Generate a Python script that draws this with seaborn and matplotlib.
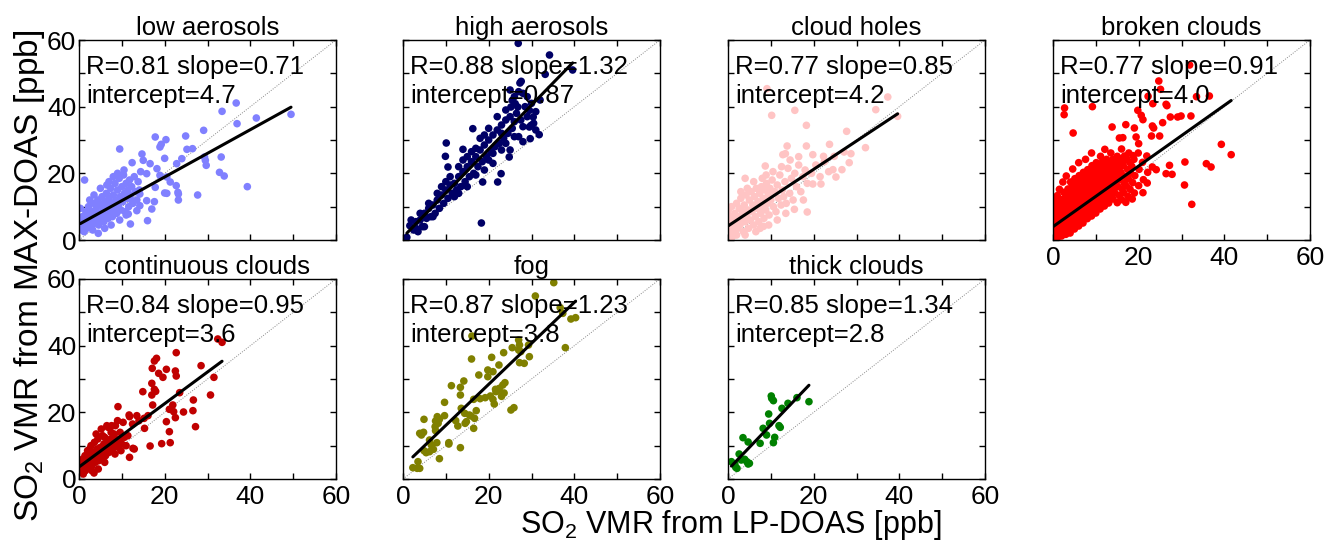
import matplotlib
matplotlib.use("Agg")
import numpy as np
import pandas as pd
import seaborn as sns
import matplotlib.pyplot as plt
from matplotlib.ticker import MultipleLocator

# ---------------- data ----------------
titles = ["low aerosols", "high aerosols", "cloud holes", "broken clouds",
          "continuous clouds", "fog", "thick clouds"]
r_values = [0.81, 0.88, 0.77, 0.77, 0.84, 0.87, 0.85]
slopes = [0.71, 1.32, 0.85, 0.91, 0.95, 1.23, 1.34]
intercepts = ["4.7", "0.87", "4.2", "4.0", "3.6", "3.8", "2.8"]
colors = ["#8080FF", "#000066", "#FFC4C4", "#FF0000", "#C00000", "#808000", "#008000"]
tick_values = [0, 20, 40, 60]

low_aerosols_pts = [
    (36.7, 41.1), (33.4, 38.6), (49.5, 37.7), (41.4, 36.6), (36.9, 34.9), (29.1, 32.9),
    (17.8, 30.9), (20.3, 30.1), (24.9, 31.2), (19.2, 28.7), (18.9, 27.9), (9.5, 27.3),
    (26.5, 27.4), (25.2, 27.2), (24.0, 24.4), (14.7, 25.8), (20.0, 24.5), (33.2, 24.9),
    (29.3, 24.9), (29.5, 23.9), (29.7, 22.4), (22.8, 22.9), (32.8, 20.3), (33.9, 19.2),
    (39.3, 16.0), (22.7, 16.3), (23.1, 14.3), (23.2, 13.8), (20.5, 14.0), (20.0, 14.1),
    (27.7, 13.5), (23.2, 12.0), (17.6, 11.5), (16.0, 5.8), (12.0, 4.8), (1.3, 18.0),
    (12.4, 23.2), (15.0, 23.9), (16.6, 22.9), (18.2, 21.4), (15.8, 19.9), (18.9, 19.4),
    (20.5, 18.9), (21.3, 17.4), (17.8, 15.8), (14.2, 13.8), (15.8, 11.8), (17.0, 9.3),
    (13.5, 8.8), (14.2, 10.3), (11.5, 7.8), (12.3, 11.8),
    (0.3, 9.5), (0.5, 5.5), (0.6, 3.0), (0.8, 7.0), (1.0, 4.5), (1.2, 2.5), (1.4, 6.0),
    (1.6, 8.5), (1.8, 3.5), (2.0, 5.5), (2.2, 10.0), (2.4, 7.0), (2.6, 4.0), (2.8, 6.0),
    (3.0, 8.5), (3.2, 3.0), (3.4, 11.0), (3.6, 5.0), (3.8, 7.5), (4.0, 9.5), (4.2, 6.0),
    (4.4, 12.0), (4.6, 4.5), (4.8, 8.0), (5.0, 10.5), (5.2, 6.5), (5.4, 13.0), (5.6, 9.0),
    (5.8, 5.5), (6.0, 11.5), (6.2, 7.5), (6.4, 14.0), (6.6, 10.0), (6.8, 6.5), (7.0, 12.5),
    (7.2, 8.5), (7.4, 15.5), (7.6, 11.0), (7.8, 7.0), (8.0, 13.5), (8.2, 9.5), (8.4, 17.0),
    (8.6, 12.0), (8.8, 8.0), (9.0, 15.0), (9.2, 10.5), (9.4, 18.5), (9.6, 13.0), (9.8, 9.0),
    (10.0, 16.0), (10.2, 11.5), (10.4, 19.5), (10.6, 14.0), (10.8, 8.5), (11.0, 17.0),
    (11.2, 12.5), (11.4, 15.0), (11.6, 10.0), (11.8, 18.0), (12.0, 13.5), (12.3, 16.0),
    (12.6, 11.0), (12.9, 19.0), (13.2, 14.5), (13.5, 12.0), (13.8, 17.5), (14.1, 15.0),
    (14.4, 20.5), (3.5, 13.5), (2.5, 12.0), (6.5, 16.5), (8.0, 19.0), (10.5, 21.0),
    (5.0, 15.5), (7.0, 17.5), (9.0, 20.0), (4.5, 2.0), (7.5, 4.5), (9.5, 6.0), (11.0, 7.5),
    (6.0, 3.5),
]

high_aerosols_pts = [
    (26.9, 59.0), (34.2, 55.5), (33.2, 49.7), (27.6, 47.6), (27.3, 47.1), (25.5, 41.9),
    (26.2, 40.9), (25.2, 39.9), (26.8, 39.9), (29.5, 38.9), (30.4, 36.9), (29.9, 34.4),
    (29.5, 33.9), (31.8, 31.6), (29.7, 30.4), (16.3, 33.4), (10.1, 29.1), (14.0, 27.2),
    (9.9, 25.1), (18.3, 5.1), (0.9, 0.8), (1.9, 6.0), (1.6, 4.3), (22.1, 17.4), (22.9, 19.9),
    (24.8, 24.9), (18.6, 17.4), (10.5, 21.9), (39.6, 51.0),
    (2.5, 3.0), (3.0, 5.5), (3.5, 2.5), (4.0, 6.0), (4.5, 4.0), (5.0, 8.0), (5.5, 6.5),
    (6.0, 9.5), (6.5, 7.0), (7.0, 10.5), (7.5, 8.0), (8.0, 12.0), (8.5, 9.5), (9.0, 13.5),
    (9.5, 11.0), (10.0, 15.0), (10.5, 12.5), (11.0, 16.5), (11.5, 14.0), (12.0, 17.0),
    (12.5, 15.0), (13.0, 19.0), (13.5, 16.0), (14.0, 20.5), (14.5, 17.5), (15.0, 22.0),
    (15.5, 19.0), (16.0, 23.5), (16.5, 20.0), (17.0, 25.0), (17.5, 22.0), (18.0, 27.0),
    (18.5, 23.5), (19.0, 28.5), (19.5, 25.0), (20.0, 30.0), (20.5, 26.5), (21.0, 31.5),
    (21.5, 28.0), (22.0, 33.0), (22.5, 29.0), (23.0, 34.5), (23.5, 30.5), (24.0, 36.0),
    (24.5, 32.0), (25.0, 37.0), (25.5, 33.5), (26.0, 35.5), (26.5, 38.0), (27.0, 31.0),
    (27.5, 36.0), (28.0, 34.0), (28.5, 40.0), (29.0, 37.0), (30.0, 41.0), (31.0, 38.5),
    (32.0, 42.0), (28.0, 44.0), (21.0, 23.0), (19.0, 21.0), (17.0, 19.5), (15.0, 25.0),
    (13.0, 22.0), (12.0, 13.0), (9.0, 16.0), (7.0, 7.0), (5.0, 4.0), (23.0, 27.0),
    (25.0, 27.0), (20.0, 33.5), (22.0, 37.0), (24.0, 39.0), (26.0, 43.0), (18.0, 30.5),
    (16.0, 26.5), (11.0, 19.0), (8.0, 14.0), (6.0, 11.0), (4.0, 8.0), (3.0, 3.5),
    (27.0, 44.5), (25.0, 45.0), (29.0, 43.0), (23.0, 32.0), (21.0, 26.0), (19.0, 31.5),
    (17.0, 27.5), (14.0, 24.0), (13.0, 14.0), (10.0, 17.5), (15.0, 16.0), (20.0, 24.0),
    (24.0, 29.0), (26.0, 31.0), (28.0, 29.5), (30.5, 35.0), (31.0, 33.0),
]

cloud_holes_pts = [
    (9.1, 45.4), (37.3, 42.9), (34.5, 39.1), (10.2, 37.4), (15.6, 38.9), (18.3, 34.4),
    (27.7, 32.6), (13.8, 28.2), (18.3, 28.2), (23.7, 28.7), (32.1, 27.7), (13.4, 25.9),
    (12.8, 25.6), (19.8, 25.6), (22.3, 25.1), (24.8, 25.1), (28.7, 25.9), (27.1, 26.4),
    (28.3, 23.2), (26.6, 21.1), (24.5, 21.1), (25.2, 18.9), (21.7, 16.8), (19.8, 16.8),
    (8.7, 22.2), (4.0, 18.5), (8.9, 19.5), (17.6, 12.0), (18.5, 8.4), (15.5, 9.2),
    (8.3, 4.1), (39.6, 37.1),
    (0.1, 9.0), (0.2, 5.0), (0.3, 2.0), (0.5, 7.0), (0.6, 3.5), (0.8, 10.0), (1.0, 4.5),
    (1.2, 6.5), (1.4, 2.5), (1.6, 8.0), (1.8, 5.0), (2.0, 11.0), (2.2, 3.5), (2.4, 7.0),
    (2.6, 9.5), (2.8, 4.5), (3.0, 12.5), (3.2, 6.0), (3.4, 8.5), (3.6, 2.5), (3.8, 10.5),
    (4.0, 5.5), (4.2, 13.5), (4.4, 7.5), (4.6, 9.0), (4.8, 3.5), (5.0, 12.0), (5.2, 6.0),
    (5.4, 14.5), (5.6, 8.5), (5.8, 10.5), (6.0, 4.5), (6.2, 13.0), (6.4, 7.0), (6.6, 15.5),
    (6.8, 9.5), (7.0, 11.5), (7.2, 5.5), (7.4, 14.0), (7.6, 8.0), (7.8, 16.0), (8.0, 10.0),
    (8.2, 12.5), (8.4, 6.5), (8.6, 15.0), (8.8, 9.0), (9.0, 17.0), (9.2, 11.0), (9.4, 13.5),
    (9.6, 7.5), (9.8, 15.5), (10.0, 12.0), (10.3, 18.0), (10.6, 10.0), (10.9, 14.5),
    (11.2, 8.5), (11.5, 16.5), (11.8, 12.5), (12.1, 19.5), (12.4, 10.5), (12.7, 15.0),
    (13.0, 13.0), (13.3, 17.5), (13.6, 11.0), (14.0, 21.5), (14.4, 14.0), (14.8, 18.5),
    (15.2, 12.0), (15.6, 20.0), (16.0, 16.0), (16.5, 22.5), (17.0, 14.5), (17.5, 19.0),
    (18.0, 21.0), (18.5, 17.0), (19.5, 20.0), (20.5, 22.5), (21.5, 19.0), (22.5, 23.5),
    (23.5, 20.5), (6.0, 17.5), (4.5, 15.5), (3.0, 14.5), (8.0, 18.5), (10.5, 20.5),
    (12.5, 22.0), (14.5, 24.0), (16.5, 25.0), (9.5, 4.5), (11.5, 6.0), (6.5, 2.5),
    (13.5, 8.0), (2.0, 1.5), (1.0, 1.0), (4.0, 1.5), (7.5, 3.5),
]

broken_clouds_pts = [
    (31.9, 52.5), (24.7, 47.7), (36.5, 43.2), (2.7, 39.6), (2.6, 37.6), (9.2, 40.0),
    (23.3, 40.9), (26.4, 40.7), (26.6, 40.3), (19.8, 38.9), (20.6, 37.4), (21.0, 36.1),
    (27.4, 36.9), (29.1, 36.9), (29.9, 37.2), (32.2, 37.2), (4.7, 32.1), (13.8, 33.9),
    (17.0, 34.6), (19.0, 33.6), (23.2, 34.2), (23.5, 33.6), (25.6, 35.2), (23.0, 31.2),
    (24.9, 31.2), (15.5, 30.6), (16.3, 30.7), (19.4, 30.9), (20.0, 28.9), (39.3, 28.7),
    (30.8, 23.4), (27.2, 22.4), (24.1, 21.1), (23.2, 21.9), (35.8, 22.9), (36.9, 21.9),
    (26.4, 19.9), (27.8, 19.7), (30.7, 16.5), (32.4, 10.7), (41.6, 25.6), (33.5, 43.0),
    (25.1, 45.2), (22.2, 43.1),
    (0.2, 1.1), (0.3, 4.2), (0.1, 7.3), (0.4, 10.2), (0.2, 12.4),
    (0.6, 2.3), (0.7, 5.1), (0.5, 8.4), (0.8, 11.2),
    (1.0, 0.6), (1.1, 3.2), (0.9, 6.3), (1.2, 9.1), (1.0, 13.3),
    (1.5, 2.1), (1.6, 4.6), (1.4, 7.7), (1.7, 10.4), (1.5, 15.2),
    (2.0, 1.2), (2.1, 3.6), (1.9, 6.2), (2.2, 9.3), (2.0, 12.1), (2.3, 17.4),
    (2.5, 2.4), (2.6, 5.3), (2.4, 8.2), (2.7, 11.1), (2.5, 14.3),
    (3.0, 1.7), (3.1, 4.1), (2.9, 7.2), (3.2, 10.3), (3.0, 13.1), (3.1, 19.2),
    (3.5, 3.2), (3.6, 6.1), (3.4, 9.4), (3.7, 12.2), (3.5, 15.3),
    (4.0, 2.1), (4.1, 5.2), (3.9, 8.3), (4.2, 11.3), (4.0, 14.1), (4.1, 17.4),
    (4.5, 4.1), (4.6, 7.3), (4.4, 10.2), (4.7, 13.4), (4.5, 16.2), (4.6, 21.3),
    (5.0, 3.3), (5.1, 6.2), (4.9, 9.1), (5.2, 12.3), (5.0, 15.1), (5.1, 18.4),
    (5.5, 5.2), (5.6, 8.3), (5.4, 11.2), (5.7, 14.1), (5.5, 17.3),
    (6.0, 4.2), (6.1, 7.1), (5.9, 10.4), (6.2, 13.2), (6.0, 16.1), (6.1, 19.3), (6.0, 23.2),
    (6.5, 6.3), (6.6, 9.2), (6.4, 12.1), (6.7, 15.4), (6.5, 18.2),
    (7.0, 5.1), (7.1, 8.4), (6.9, 11.3), (7.2, 14.2), (7.0, 17.1), (7.1, 20.3),
    (7.5, 7.2), (7.6, 10.1), (7.4, 13.3), (7.7, 16.2), (7.5, 19.1), (7.6, 24.2),
    (8.0, 6.4), (8.1, 9.2), (7.9, 12.1), (8.2, 15.3), (8.0, 18.2), (8.1, 21.1),
    (8.5, 8.1), (8.6, 11.3), (8.4, 14.2), (8.7, 17.1), (8.5, 20.4),
    (9.0, 7.2), (9.1, 10.1), (8.9, 13.3), (9.2, 16.2), (9.0, 19.1), (9.1, 22.3), (9.0, 26.1),
    (9.5, 9.3), (9.6, 12.2), (9.4, 15.1), (9.7, 18.3), (9.5, 21.2),
    (10.0, 8.1), (10.1, 11.3), (9.9, 14.2), (10.2, 17.1), (10.0, 20.3), (10.1, 23.2),
    (10.5, 10.2), (10.6, 13.1), (10.4, 16.3), (10.7, 19.2), (10.5, 22.1),
    (11.0, 9.3), (11.1, 12.2), (10.9, 15.1), (11.2, 18.3), (11.0, 21.2), (11.1, 25.1),
    (11.5, 11.1), (11.6, 14.3), (11.4, 17.2), (11.7, 20.1), (11.5, 23.3),
    (12.0, 10.2), (12.1, 13.1), (11.9, 16.3), (12.2, 19.2), (12.0, 22.1), (12.1, 27.2),
    (12.5, 12.3), (12.6, 15.2), (12.4, 18.1), (12.7, 21.3), (12.5, 24.2),
    (13.0, 11.1), (13.1, 14.3), (12.9, 17.2), (13.2, 20.1), (13.0, 23.3),
    (13.5, 13.2), (13.6, 16.1), (13.4, 19.3), (13.7, 22.2), (13.5, 26.1),
    (14.0, 12.3), (14.1, 15.2), (13.9, 18.1), (14.2, 21.3), (14.0, 24.2),
    (14.5, 14.1), (14.6, 17.3), (14.4, 20.2), (14.7, 23.1),
    (15.0, 11.2), (15.1, 16.1), (14.9, 19.3), (15.2, 22.2), (15.0, 25.1),
    (15.5, 13.3), (15.6, 18.2), (15.4, 21.1), (15.7, 24.3),
    (16.0, 12.1), (16.1, 15.3), (15.9, 20.2), (16.2, 23.1), (16.0, 27.3),
    (16.5, 14.2), (16.6, 17.1), (16.4, 22.3), (16.7, 25.2),
    (17.0, 11.3), (17.1, 16.2), (16.9, 19.1), (17.2, 24.3),
    (17.5, 13.1), (17.6, 18.3), (17.4, 21.2), (17.7, 26.1),
    (18.0, 15.2), (18.1, 20.1), (17.9, 23.3),
    (18.5, 12.3), (18.6, 17.2), (18.4, 22.1), (18.7, 25.3),
    (19.0, 14.1), (19.1, 19.3), (18.9, 24.2),
    (20.0, 16.3), (20.1, 21.2), (19.9, 26.1),
    (21.0, 14.2), (21.1, 18.1), (20.9, 23.3),
    (22.0, 17.1), (22.1, 20.3), (21.9, 25.2),
]

continuous_clouds_pts = [
    (32.4, 42.0), (33.4, 41.0), (22.7, 37.9), (18.1, 36.2), (17.6, 35.4), (17.1, 33.2),
    (20.4, 32.9), (22.5, 32.4), (22.7, 30.9), (28.5, 34.0), (19.6, 30.5), (18.6, 31.7),
    (31.5, 30.5), (17.0, 28.7), (17.6, 26.9), (17.9, 26.3), (14.9, 26.2), (17.0, 25.2),
    (30.7, 25.2), (17.2, 22.2), (9.1, 21.7), (23.5, 25.9), (21.9, 22.2), (21.1, 20.9),
    (22.1, 20.2), (26.7, 23.7), (26.6, 20.5), (24.4, 20.1), (20.4, 17.2), (22.5, 18.4),
    (27.2, 15.7), (21.1, 14.2), (21.3, 10.9), (19.3, 10.6), (16.6, 9.9), (15.2, 18.2),
    (16.1, 19.0), (15.3, 15.2), (11.7, 19.2), (11.8, 18.7), (12.6, 9.2), (12.9, 9.0),
    (11.8, 6.5),
    (0.2, 3.0), (0.4, 5.0), (0.5, 2.5), (0.7, 4.0), (0.9, 6.0), (1.0, 3.0), (1.2, 5.0),
    (1.4, 7.0), (1.5, 2.5), (1.7, 4.5), (1.9, 6.5), (2.0, 8.5), (2.2, 3.5), (2.4, 5.5),
    (2.6, 7.5), (2.8, 10.0), (3.0, 4.0), (3.2, 6.0), (3.4, 8.0), (3.6, 11.0), (3.8, 5.0),
    (4.0, 7.0), (4.2, 9.0), (4.4, 12.0), (4.6, 5.5), (4.8, 7.5), (5.0, 9.5), (5.2, 15.0),
    (5.4, 6.5), (5.6, 8.5), (5.8, 10.5), (6.0, 12.5), (6.2, 7.0), (6.4, 9.0), (6.6, 11.0),
    (6.8, 15.5), (7.0, 8.0), (7.2, 10.0), (7.4, 12.0), (7.6, 16.0), (7.8, 9.0), (8.0, 11.0),
    (8.2, 13.5), (8.4, 7.5), (8.6, 10.0), (8.8, 12.0), (9.0, 17.5), (9.2, 9.5), (9.4, 11.5),
    (9.6, 14.0), (9.8, 8.5), (10.0, 10.5), (10.3, 17.0), (10.6, 12.5), (11.0, 10.0),
    (11.4, 13.0), (3.0, 2.5), (4.5, 3.0), (6.0, 5.0), (1.0, 1.5), (2.5, 9.0), (5.5, 13.0),
    (7.5, 14.0), (6.5, 16.0), (4.0, 13.5), (8.5, 16.0), (3.5, 1.8), (12.5, 16.5),
    (13.5, 19.0), (14.0, 17.5),
]

fog_pts = [
    (35.2, 58.9), (30.9, 54.9), (39.2, 48.0), (40.3, 48.4), (36.7, 51.4), (37.3, 49.7),
    (37.9, 39.4), (16.1, 42.9), (25.5, 39.4), (27.0, 41.7), (27.2, 40.2), (27.0, 38.7),
    (27.5, 38.2), (29.3, 40.2), (29.5, 36.7), (28.3, 34.7), (27.2, 34.9), (23.5, 37.9),
    (20.7, 36.5), (16.0, 36.0), (19.8, 32.7), (21.0, 32.2), (19.8, 30.7), (22.4, 34.2),
    (17.7, 31.2), (14.2, 29.4), (13.4, 27.5), (13.4, 25.2), (11.3, 28.0), (23.8, 28.9),
    (23.3, 28.2), (22.5, 27.2), (22.1, 26.5), (21.6, 26.9), (20.4, 24.9), (21.0, 23.9),
    (21.3, 22.5), (19.2, 24.4), (18.0, 24.1), (9.7, 23.0), (25.9, 21.4), (25.2, 20.7),
    (16.5, 23.9), (17.1, 20.5), (13.6, 21.2), (14.4, 19.7), (14.8, 17.2), (15.5, 19.2),
    (15.9, 18.9), (16.7, 18.2), (16.5, 15.2), (9.7, 19.0), (8.0, 18.7), (8.5, 17.9),
    (7.6, 17.4), (8.2, 16.7), (7.5, 15.7), (7.6, 14.5), (4.9, 17.9), (3.9, 13.7),
    (4.3, 13.2), (4.8, 14.0), (6.2, 11.7), (7.9, 10.9), (6.6, 10.2), (10.7, 10.9),
    (10.7, 10.5), (13.4, 9.4), (4.9, 8.5), (5.4, 7.9), (6.2, 8.2), (7.1, 8.9), (8.5, 6.1),
    (3.5, 5.2), (2.3, 3.4), (3.3, 3.2), (3.9, 3.2), (12.3, 17.5), (12.8, 15.9),
    (14.5, 16.7), (21.7, 26.2), (23.0, 24.8), (23.6, 25.8),
]

thick_clouds_pts = [
    (10.1, 24.9), (10.2, 24.2), (10.6, 23.5), (16.1, 24.4), (18.9, 23.2), (14.0, 22.7),
    (12.6, 21.2), (9.5, 19.5), (11.9, 16.0), (12.2, 15.5), (9.7, 16.7), (8.2, 15.2),
    (9.0, 13.2), (10.9, 12.5), (10.6, 10.9), (7.5, 10.7), (3.5, 12.4), (4.7, 11.1),
    (2.6, 7.5), (3.9, 5.9), (4.4, 5.2), (5.0, 4.7), (4.7, 4.5), (0.8, 5.2), (1.6, 4.4),
    (2.1, 3.2), (1.8, 3.5), (3.1, 5.7),
]

panel_points = [low_aerosols_pts, high_aerosols_pts, cloud_holes_pts, broken_clouds_pts,
                continuous_clouds_pts, fog_pts, thick_clouds_pts]

# ---------------- styling ----------------
sns.set_theme(style="ticks")
plt.rcParams["font.family"] = ["Liberation Sans", "DejaVu Sans"]
plt.rcParams["mathtext.fontset"] = "custom"
plt.rcParams["mathtext.rm"] = "Liberation Sans"
plt.rcParams["mathtext.it"] = "Liberation Sans:italic"
plt.rcParams["axes.linewidth"] = 1.0
plt.rcParams["axes.edgecolor"] = "black"
plt.rcParams["text.color"] = "black"
plt.rcParams["axes.labelcolor"] = "black"
plt.rcParams["axes.titlecolor"] = "black"
plt.rcParams["xtick.color"] = "black"
plt.rcParams["ytick.color"] = "black"
plt.rcParams["xtick.labelcolor"] = "black"
plt.rcParams["ytick.labelcolor"] = "black"

W, H = 1327, 543
fig = plt.figure(figsize=(W / 100, H / 100), dpi=100)
fig.patch.set_facecolor("white")

col_left = [79, 403, 728, 1053]
row_top = [40, 279]
ax_w, ax_h = 257, 200

for i, (title, pts, color, r, s, icpt) in enumerate(
        zip(titles, panel_points, colors, r_values, slopes, intercepts)):
    row, col = divmod(i, 4)
    left = col_left[col] / W
    bottom = 1 - (row_top[row] + ax_h) / H
    ax = fig.add_axes([left, bottom, ax_w / W, ax_h / H])
    df = pd.DataFrame(pts, columns=["lp", "max"])

    ax.plot([0, 60], [0, 60], linestyle=(0, (1, 1.5)), color="#888888", lw=0.7, zorder=1)
    sns.scatterplot(data=df, x="lp", y="max", ax=ax, color=color, s=30,
                    edgecolor="none", linewidth=0, zorder=2, legend=False)
    xs = np.array([df["lp"].min(), df["lp"].max()])
    ax.plot(xs, s * xs + float(icpt), color="black", lw=2.2, zorder=3)

    ax.set_xlim(0, 60)
    ax.set_ylim(0, 60)
    ax.xaxis.set_major_locator(MultipleLocator(20))
    ax.yaxis.set_major_locator(MultipleLocator(20))
    ax.xaxis.set_minor_locator(MultipleLocator(10))
    ax.yaxis.set_minor_locator(MultipleLocator(10))
    ax.set_xticks(tick_values)
    ax.set_yticks(tick_values)
    ax.tick_params(which="both", direction="in", top=True, right=True,
                   length=4, width=1, color="black")
    ax.tick_params(axis="y", labelsize=19, pad=2)
    ax.tick_params(axis="x", labelsize=19, pad=4)
    ax.tick_params(labelleft=(col == 0), labelbottom=(row == 1 or i == 3))
    ax.set_xlabel("")
    ax.set_ylabel("")
    ax.set_title(title, fontsize=18.5, pad=3)

    ax.text(0.027, 0.829, f"R={r:.2f} slope={s:.2f}", transform=ax.transAxes,
            fontsize=18.5, va="baseline", ha="left", zorder=4)
    ax.text(0.027, 0.683, f"intercept={icpt}", transform=ax.transAxes,
            fontsize=18.5, va="baseline", ha="left", zorder=4)

fig.text(30 / W, 1 - 276 / H, "SO$_2$ VMR from MAX-DOAS [ppb]", rotation=90,
         fontsize=24, ha="center", va="center")
fig.text(731 / W, 1 - 533 / H, "SO$_2$ VMR from LP-DOAS [ppb]",
         fontsize=22, ha="center", va="baseline")

fig.savefig("out.png", dpi=100, facecolor="white")
